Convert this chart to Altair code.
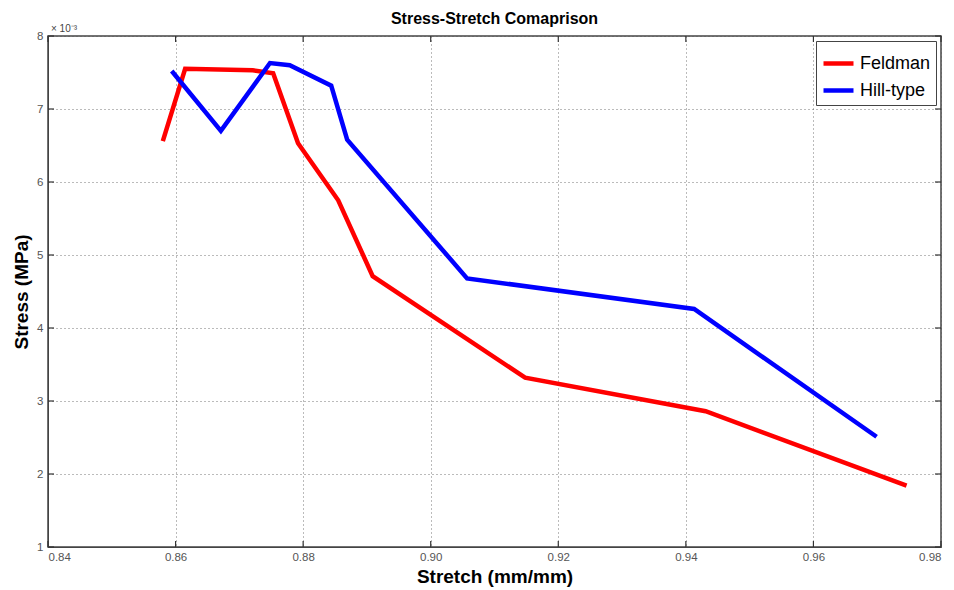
import altair as alt
import pandas as pd

feldman_x = [0.8580, 0.8615, 0.8721, 0.8753, 0.8792, 0.8855, 0.8909, 0.9148, 0.9431, 0.9746]
feldman_y = [6.56, 7.55, 7.53, 7.49, 6.53, 5.75, 4.71, 3.32, 2.86, 1.84]
hill_x = [0.8594, 0.8671, 0.8748, 0.8779, 0.8844, 0.8869, 0.9057, 0.9413, 0.9699]
hill_y = [7.52, 6.70, 7.63, 7.60, 7.32, 6.58, 4.68, 4.26, 2.51]
series = ["Feldman", "Hill-type"]
colors = ["#ff0000", "#0000ff"]
x_ticks = [0.84, 0.86, 0.88, 0.90, 0.92, 0.94, 0.96, 0.98]
y_ticks = [1, 2, 3, 4, 5, 6, 7, 8]

rows = []
for i, (x, y) in enumerate(zip(feldman_x, feldman_y)):
    rows.append({"series": series[0], "order": i, "x": x, "y": y})
for i, (x, y) in enumerate(zip(hill_x, hill_y)):
    rows.append({"series": series[1], "order": i, "x": x, "y": y})
df = pd.DataFrame(rows)

FONT = "Liberation Sans"
W, H = 893, 511

xscale = alt.Scale(domain=[0.84, 0.98], nice=False, zero=False)
yscale = alt.Scale(domain=[1, 8], nice=False, zero=False)

lines = alt.Chart(df).mark_line(strokeWidth=4.5, strokeJoin="miter").encode(
    x=alt.X("x:Q", scale=xscale,
            axis=alt.Axis(values=x_ticks, format=".2f", title="Stretch (mm/mm)",
                          grid=True, gridDash=[1, 3], gridColor="#555555", gridOpacity=0.8,
                          ticks=False, domainColor="#444444",
                          labelFontSize=11.5, labelColor="#555555", labelPadding=4,
                          titleFontSize=19, titleFontWeight="bold", titlePadding=5,
                          labelFont=FONT, titleFont=FONT)),
    y=alt.Y("y:Q", scale=yscale,
            axis=alt.Axis(values=y_ticks, format="d", title="Stress (MPa)",
                          grid=True, gridDash=[1, 3], gridColor="#555555", gridOpacity=0.8,
                          ticks=False, domainColor="#444444",
                          labelFontSize=11.5, labelColor="#555555", labelPadding=5,
                          titleFontSize=19, titleFontWeight="bold", titlePadding=5,
                          labelFont=FONT, titleFont=FONT)),
    color=alt.Color("series:N", scale=alt.Scale(domain=series, range=colors),
                    legend=alt.Legend(title=None, orient="top-right", offset=5,
                                      symbolType="stroke", symbolStrokeWidth=4.5,
                                      symbolSize=900, labelFontSize=18, labelFont=FONT,
                                      strokeColor="#444444", fillColor="white",
                                      padding=5, rowPadding=0, labelOffset=4)),
    order="order:Q",
)

xt = pd.DataFrame({"v": x_ticks})
yt = pd.DataFrame({"v": y_ticks})
tick_style = dict(color="#333333", strokeWidth=1.2)
xt_bottom = alt.Chart(xt).mark_rule(**tick_style).encode(
    x=alt.X("v:Q", scale=xscale), y=alt.value(H), y2=alt.value(H - 6))
xt_top = alt.Chart(xt).mark_rule(**tick_style).encode(
    x=alt.X("v:Q", scale=xscale), y=alt.value(0), y2=alt.value(6))
yt_left = alt.Chart(yt).mark_rule(**tick_style).encode(
    y=alt.Y("v:Q", scale=yscale), x=alt.value(0), x2=alt.value(6))
yt_right = alt.Chart(yt).mark_rule(**tick_style).encode(
    y=alt.Y("v:Q", scale=yscale), x=alt.value(W), x2=alt.value(W - 6))

mult = alt.Chart(pd.DataFrame({"t": ["× 10⁻³"]})).mark_text(
    align="left", baseline="bottom", fontSize=10, font=FONT, color="#444444"
).encode(x=alt.value(3), y=alt.value(-2), text="t:N")

chart = alt.layer(lines, xt_bottom, xt_top, yt_left, yt_right, mult).properties(
    width=W, height=H,
    title=alt.Title("Stress-Stretch Comaprison", fontSize=16, fontWeight="bold",
                    font=FONT, offset=-3, frame="group"),
    autosize=alt.AutoSizeParams(type="none"),
    padding={"left": 40, "top": 28, "right": 5, "bottom": 44},
).configure_view(stroke="#444444", strokeWidth=1.5)

chart.save("out.html", embed_options={"renderer": "svg", "actions": False})
